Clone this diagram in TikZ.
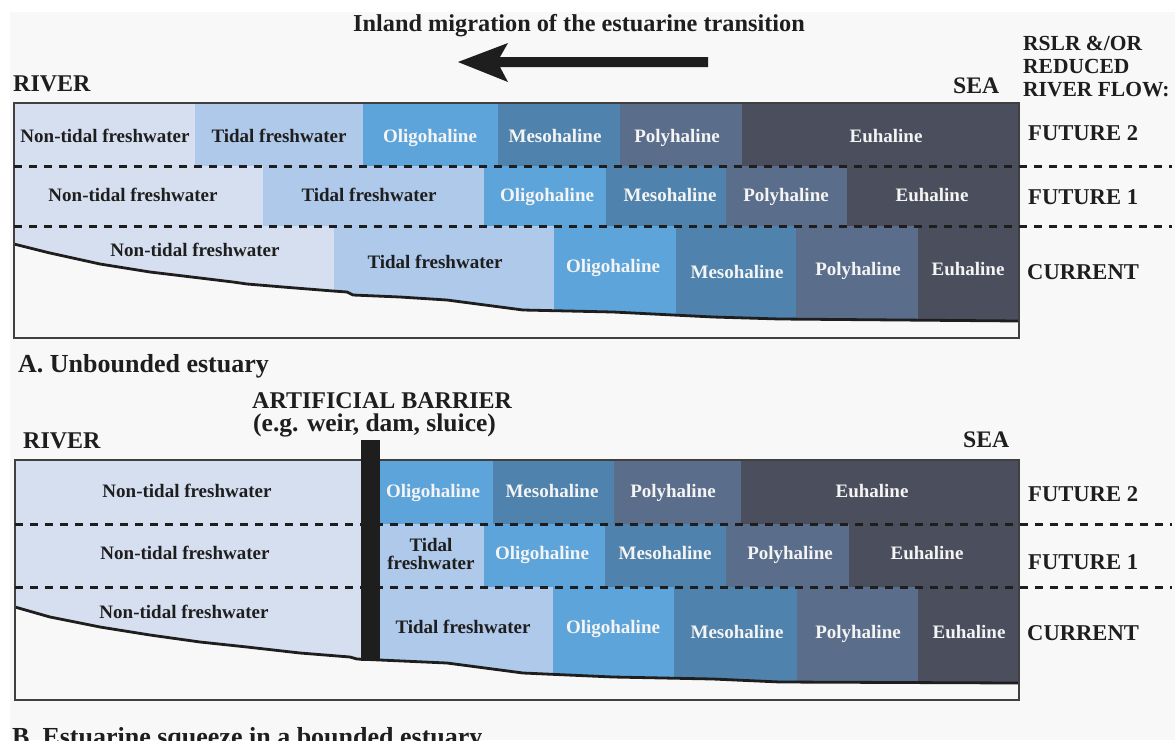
\documentclass[tikz,border=0pt]{standalone}
\usepackage{fontspec}
\setmainfont{Liberation Serif}
\definecolor{bg}{HTML}{F8F8F8}
\definecolor{ntf}{HTML}{D6DFF0}
\definecolor{tf}{HTML}{AFC9EA}
\definecolor{oli}{HTML}{5DA4DA}
\definecolor{meso}{HTML}{4F82AC}
\definecolor{poly}{HTML}{5A6D8A}
\definecolor{eu}{HTML}{4B4F5D}
\definecolor{ink}{HTML}{1E1E1E}
\definecolor{pale}{HTML}{F4F4F4}
\begin{document}
\begin{tikzpicture}[x=1pt,y=-1pt,
  zone/.style={inner sep=0pt,font=\fontsize{19}{18}\selectfont\bfseries},
  one/.style={zone,text height=13pt,text depth=4pt},
  dk/.style={one,text=ink},
  lt/.style={one,text=pale},
  lab/.style={inner sep=0pt,anchor=base west,text=ink,font=\fontsize{22.6}{24}\selectfont\bfseries},
  head/.style={inner sep=0pt,text=ink,font=\fontsize{24.3}{26}\selectfont\bfseries},
  captiontext/.style={inner sep=0pt,anchor=base west,text=ink,font=\fontsize{26}{28}\selectfont\bfseries},
  frame/.style={draw=ink!85,line width=1.8pt},
  divider/.style={draw=ink,line width=3pt,dash pattern=on 8pt off 7pt},
  seabed/.style={draw=ink,line width=2.8pt,line join=round}]
\useasboundingbox (0,0) rectangle (1175,740);
\clip (0,0) rectangle (1175,740);
\fill[white] (0,0) rectangle (1175,740);
\fill[bg] (10,12) rectangle (1175,740);

% ---------- header ----------
\node[head,anchor=base] (title) at (579,31) {Inland migration of the estuarine transition};
\fill[ink] (708,57) -- (500,57) -- (508,43) -- (458,62) -- (508,82) -- (500,67) -- (708,67) -- cycle;
\node[lab,font=\fontsize{21.5}{23}\selectfont\bfseries] (rslr1) at (1023,50) {RSLR \&/OR};
\node[lab,font=\fontsize{21.5}{23}\selectfont\bfseries] (rslr2) at (1023,73) {REDUCED};
\node[lab,font=\fontsize{21.5}{23}\selectfont\bfseries] (rslr3) at (1023,96) {RIVER FLOW:};
\node[lab,font=\fontsize{24}{26}\selectfont\bfseries] (riverA) at (13,91) {RIVER};
\node[lab,font=\fontsize{23.7}{26}\selectfont\bfseries] (seaA) at (953,93) {SEA};

% ---------- panel A ----------
\fill[ntf]  (14,103) rectangle (195,166);
\fill[tf]   (195,103) rectangle (363,166);
\fill[oli]  (363,103) rectangle (498,166);
\fill[meso] (498,103) rectangle (620,166);
\fill[poly] (620,103) rectangle (742,166);
\fill[eu]   (742,103) rectangle (1019,166);
\fill[ntf]  (14,166) rectangle (263,226);
\fill[tf]   (263,166) rectangle (484,226);
\fill[oli]  (484,166) rectangle (606,226);
\fill[meso] (606,166) rectangle (726,226);
\fill[poly] (726,166) rectangle (847,226);
\fill[eu]   (847,166) rectangle (1019,226);
\fill[ntf]  (14,226) rectangle (334,338);
\fill[tf]   (334,226) rectangle (554,338);
\fill[oli]  (554,226) rectangle (676,338);
\fill[meso] (676,226) rectangle (796,338);
\fill[poly] (796,226) rectangle (918,338);
\fill[eu]   (918,226) rectangle (1019,338);
\fill[bg] (14,244) -- (50,253) -- (100,264) -- (150,272) -- (200,278) -- (233,282) -- (247,284) -- (283,287) -- (333,291) -- (347,292) -- (353,295) -- (400,297) -- (447,300) -- (523,310) -- (613,312) -- (713,317) -- (780,319) -- (1019,321) -- (1019,338) -- (14,338) -- cycle;
\draw[seabed] (14,244) -- (50,253) -- (100,264) -- (150,272) -- (200,278) -- (233,282) -- (247,284) -- (283,287) -- (333,291) -- (347,292) -- (353,295) -- (400,297) -- (447,300) -- (523,310) -- (613,312) -- (713,317) -- (780,319) -- (1019,321);
\draw[frame] (14,103) rectangle (1019,338);
\draw[divider] (14,166) -- (1172,166);
\draw[divider] (14,226) -- (1172,226);

\node[dk] (a2n) at (105,138) {Non-tidal freshwater};
\node[dk] (a2t) at (279,138) {Tidal freshwater};
\node[lt] (a2o) at (430,138) {Oligohaline};
\node[lt] (a2m) at (555,138) {Mesohaline};
\node[lt] (a2p) at (677,138) {Polyhaline};
\node[lt] (a2e) at (886,138) {Euhaline};
\node[dk] (a1n) at (133,197) {Non-tidal freshwater};
\node[dk] (a1t) at (369,197) {Tidal freshwater};
\node[lt] (a1o) at (547,197) {Oligohaline};
\node[lt] (a1m) at (670,197) {Mesohaline};
\node[lt] (a1p) at (786,197) {Polyhaline};
\node[lt] (a1e) at (932,197) {Euhaline};
\node[dk] (a0n) at (195,252) {Non-tidal freshwater};
\node[dk] (a0t) at (435,264) {Tidal freshwater};
\node[lt] (a0o) at (613,268) {Oligohaline};
\node[lt] (a0m) at (737,274) {Mesohaline};
\node[lt] (a0p) at (858,271) {Polyhaline};
\node[lt] (a0e) at (968,271) {Euhaline};

\node[lab] (af2) at (1028,140) {FUTURE 2};
\node[lab] (af1) at (1028,204) {FUTURE 1};
\node[lab] (acu) at (1027,279) {CURRENT};
\node[captiontext] (capA) at (18,372) {A. Unbounded estuary};

% ---------- panel B ----------
\node[head,anchor=base west,font=\fontsize{24}{26}\selectfont\bfseries] (barr1) at (252,408) {ARTIFICIAL BARRIER};
\node[head,anchor=base west,font=\fontsize{25.5}{26}\selectfont\bfseries] (barr2) at (253,431) {(e.g. weir, dam, sluice)};
\node[lab,font=\fontsize{24}{26}\selectfont\bfseries] (riverB) at (23,448) {RIVER};
\node[lab,font=\fontsize{23.7}{26}\selectfont\bfseries] (seaB) at (963,447) {SEA};

\fill[ntf]  (15,460) rectangle (380,524);
\fill[oli]  (380,460) rectangle (493,524);
\fill[meso] (493,460) rectangle (614,524);
\fill[poly] (614,460) rectangle (741,524);
\fill[eu]   (741,460) rectangle (1019,524);
\fill[ntf]  (15,524) rectangle (380,587);
\fill[tf]   (380,524) rectangle (484,587);
\fill[oli]  (484,524) rectangle (605,587);
\fill[meso] (605,524) rectangle (726,587);
\fill[poly] (726,524) rectangle (849,587);
\fill[eu]   (849,524) rectangle (1019,587);
\fill[ntf]  (15,587) rectangle (380,700);
\fill[tf]   (380,587) rectangle (553,700);
\fill[oli]  (553,587) rectangle (674,700);
\fill[meso] (674,587) rectangle (797,700);
\fill[poly] (797,587) rectangle (918,700);
\fill[eu]   (918,587) rectangle (1019,700);
\fill[bg] (15,607) -- (50,617) -- (100,627) -- (150,635) -- (200,642) -- (247,647) -- (300,653) -- (350,657) -- (357,659) -- (380,660) -- (447,663) -- (523,673) -- (613,677) -- (713,679) -- (780,682) -- (1019,683) -- (1019,700) -- (15,700) -- cycle;
\draw[seabed] (15,607) -- (50,617) -- (100,627) -- (150,635) -- (200,642) -- (247,647) -- (300,653) -- (350,657) -- (357,659) -- (380,660) -- (447,663) -- (523,673) -- (613,677) -- (713,679) -- (780,682) -- (1019,683);
\draw[frame] (15,460) rectangle (1019,700);
\draw[divider] (15,524) -- (1172,524);
\draw[divider] (15,587) -- (1172,587);
\fill[ink] (361,440) rectangle (380,661);

\node[dk] (b2n) at (187,493) {Non-tidal freshwater};
\node[lt] (b2o) at (433,493) {Oligohaline};
\node[lt] (b2m) at (552,493) {Mesohaline};
\node[lt] (b2p) at (673,493) {Polyhaline};
\node[lt] (b2e) at (872,493) {Euhaline};
\node[dk] (b1n) at (185,555) {Non-tidal freshwater};
\node[zone,text=ink,align=center] (b1t) at (431,554) {Tidal\\freshwater};
\node[lt] (b1o) at (542,555) {Oligohaline};
\node[lt] (b1m) at (665,555) {Mesohaline};
\node[lt] (b1p) at (790,555) {Polyhaline};
\node[lt] (b1e) at (927,555) {Euhaline};
\node[dk] (b0n) at (184,614) {Non-tidal freshwater};
\node[dk] (b0t) at (463,629) {Tidal freshwater};
\node[lt] (b0o) at (613,629) {Oligohaline};
\node[lt] (b0m) at (737,634) {Mesohaline};
\node[lt] (b0p) at (858,634) {Polyhaline};
\node[lt] (b0e) at (969,634) {Euhaline};

\node[lab] (bf2) at (1028,501) {FUTURE 2};
\node[lab] (bf1) at (1028,569) {FUTURE 1};
\node[lab] (bcu) at (1027,640) {CURRENT};
\node[captiontext] (capB) at (12,745) {B. Estuarine squeeze in a bounded estuary};
\end{tikzpicture}
\end{document}
